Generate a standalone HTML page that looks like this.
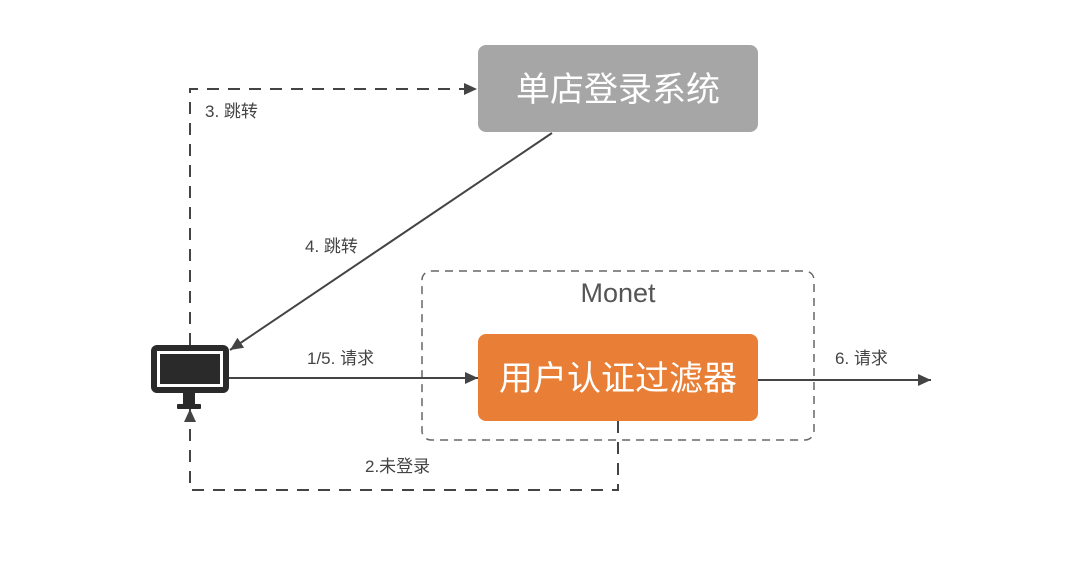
<!DOCTYPE html>
<html><head><meta charset="utf-8"><style>
html,body{margin:0;padding:0;background:#fff;}
svg{display:block;font-family:"Liberation Sans","Noto Sans CJK SC",sans-serif;}
</style></head><body>
<svg width="1080" height="567" viewBox="0 0 1080 567" xmlns="http://www.w3.org/2000/svg">
<defs>
<marker id="a" markerWidth="14" markerHeight="14" refX="13" refY="6" orient="auto" markerUnits="userSpaceOnUse">
<path d="M0,0 L13,6 L0,12 z" fill="#444"/></marker>
</defs>
<rect x="422" y="271" width="392" height="169" rx="9" fill="none" stroke="#666" stroke-width="1.5" stroke-dasharray="8,6"/>
<text x="618" y="302" font-size="27" fill="#555" text-anchor="middle">Monet</text>
<rect x="478" y="45" width="280" height="87" rx="8" fill="#a6a6a6"/>
<text x="618" y="101" font-size="34" fill="#fff" text-anchor="middle">单店登录系统</text>
<rect x="478" y="334" width="280" height="87" rx="8" fill="#e97f37"/>
<text x="618" y="390" font-size="34" fill="#fff" text-anchor="middle">用户认证过滤器</text>
<polyline points="190,345 190,89 477,89" fill="none" stroke="#444" stroke-width="2" stroke-dasharray="12,9" marker-end="url(#a)"/>
<text x="205" y="117" font-size="17" fill="#444">3. 跳转</text>
<line x1="552" y1="133" x2="230" y2="350" stroke="#444" stroke-width="2" marker-end="url(#a)"/>
<text x="305" y="252" font-size="17" fill="#444">4. 跳转</text>
<line x1="229" y1="378" x2="478" y2="378" stroke="#444" stroke-width="2" marker-end="url(#a)"/>
<text x="307" y="364" font-size="17" fill="#444">1/5. 请求</text>
<line x1="758" y1="380" x2="931" y2="380" stroke="#444" stroke-width="2" marker-end="url(#a)"/>
<text x="835" y="364" font-size="17" fill="#444">6. 请求</text>
<polyline points="618,421 618,490 190,490 190,409" fill="none" stroke="#444" stroke-width="2" stroke-dasharray="12,9" marker-end="url(#a)"/>
<text x="365" y="472" font-size="17" fill="#444">2.未登录</text>
<rect x="151" y="345" width="78" height="48" rx="6" fill="#2a2a2a"/>
<rect x="157" y="351" width="66" height="36" fill="#fff"/>
<rect x="160" y="354" width="60" height="30" fill="#2a2a2a"/>
<rect x="183" y="393" width="12" height="12" fill="#2a2a2a"/>
<rect x="177" y="404" width="24" height="5" rx="1" fill="#2a2a2a"/>
</svg>
</body></html>
